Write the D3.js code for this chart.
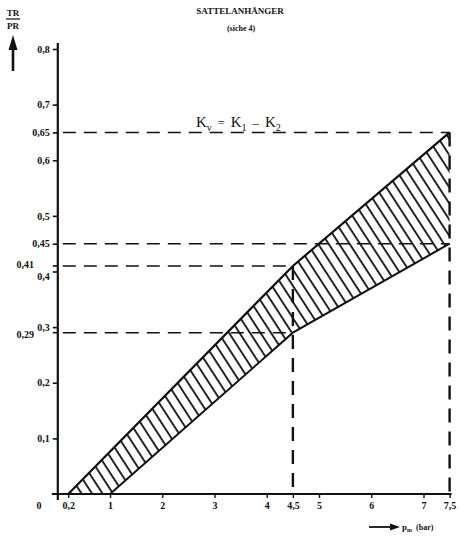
<!DOCTYPE html>
<html><head><meta charset="utf-8">
<script src="https://cdn.jsdelivr.net/npm/d3@7"></script>
<style>
body{margin:0;background:#fff;}
text{font-family:"Liberation Serif","DejaVu Serif",serif;font-weight:bold;fill:#111;}
</style></head>
<body>
<svg id="c" width="472" height="542"></svg>
<script>
// ---- data ----
const upperX = [0.2, 4.5, 7.5];
const upperY = [0, 0.41, 0.65];
const lowerX = [1, 4.5, 7.5];
const lowerY = [0, 0.29, 0.45];
const yTickValues = [0.1, 0.2, 0.3, 0.4, 0.45, 0.5, 0.6, 0.65, 0.7, 0.8];
const yTickLabels = ["0,1","0,2","0,3","0,4","0,45","0,5","0,6","0,65","0,7","0,8"];
const yExtraValues = [0.41, 0.29];
const yExtraLabels = ["0,41", "0,29"];
const xTickValues = [0.2, 1, 2, 3, 4, 4.5, 5, 6, 7, 7.5];
const xTickLabels = ["0,2","1","2","3","4","4,5","5","6","7","7,5"];
// reference guides: [x-end, y-level]
const hGuideX = [7.5, 7.5, 4.5, 4.5];
const hGuideY = [0.65, 0.45, 0.41, 0.29];
const vGuideX = [4.5, 7.5];
const vGuideY = [0.41, 0.65];

const svg = d3.select("#c");
const x = d3.scaleLinear().domain([0, 7.5]).range([57.8, 449.6]);
const y = d3.scaleLinear().domain([0, 0.8]).range([494, 49]);

// hatch pattern
const defs = svg.append("defs");
const pat = defs.append("pattern").attr("id","hatch").attr("patternUnits","userSpaceOnUse")
  .attr("width", 8.8).attr("height", 20).attr("patternTransform","rotate(-33)");
pat.append("line").attr("x1",2).attr("x2",2).attr("y1",-2).attr("y2",22)
  .attr("stroke","#111").attr("stroke-width",1.8);

// band
const upper = upperX.map((v,i)=>[v, upperY[i]]);
const lower = lowerX.map((v,i)=>[v, lowerY[i]]);
const band = upper.concat(lower.slice().reverse());
const line = d3.line().x(d=>x(d[0])).y(d=>y(d[1]));
svg.append("path").attr("d", line(band) + "Z").attr("fill","url(#hatch)").attr("stroke","none");

// guides
const g = svg.append("g").attr("stroke","#111").attr("fill","none");
hGuideY.forEach((v,i)=>{
  g.append("line").attr("x1", x(0)+5).attr("x2", x(hGuideX[i])).attr("y1", y(v)).attr("y2", y(v))
   .attr("stroke-width",1.6).attr("stroke-dasharray","13,8");
});
vGuideX.forEach((v,i)=>{
  g.append("line").attr("x1", x(v)).attr("x2", x(v)).attr("y1", y(vGuideY[i])).attr("y2", y(0))
   .attr("stroke-width",2.4).attr("stroke-dasharray","14,9");
});

// band outlines
svg.append("path").attr("d", line(upper)).attr("fill","none").attr("stroke","#111").attr("stroke-width",2.2);
svg.append("path").attr("d", line(lower)).attr("fill","none").attr("stroke","#111").attr("stroke-width",2);

// y axis
const yAxis = d3.axisLeft(y).tickValues(yTickValues).tickFormat((d,i)=>yTickLabels[i]).tickSize(5).tickPadding(3);
const ya = svg.append("g").attr("transform",`translate(${x(0)},0)`).call(yAxis);
ya.select(".domain").remove();
ya.selectAll(".tick line").attr("stroke","#111").attr("stroke-width",1.6);
ya.selectAll(".tick text").attr("font-size",10).attr("font-family",null).style("font-family","'Liberation Serif',serif").style("font-weight","bold")
  .attr("dy", (d)=> d===0.4 ? "0.75em" : "0.32em");
svg.append("line").attr("x1",x(0)).attr("x2",x(0)).attr("y1",y(0.8)-6).attr("y2",y(0)+6)
  .attr("stroke","#111").attr("stroke-width",2.2);
yExtraValues.forEach((v,i)=>{
  svg.append("line").attr("x1",x(0)-5).attr("x2",x(0)).attr("y1",y(v)).attr("y2",y(v)).attr("stroke","#111").attr("stroke-width",1.6);
  svg.append("text").attr("x",34).attr("y",y(v)).attr("dy", i===0 ? "0.25em" : "0.55em").attr("text-anchor","end")
    .attr("font-size",10).text(yExtraLabels[i]);
});

// x axis
const xa = svg.append("g").attr("transform",`translate(0,${y(0)})`)
  .call(d3.axisBottom(x).tickValues(xTickValues).tickFormat((d,i)=>xTickLabels[i]).tickSize(4).tickPadding(4));
xa.select(".domain").remove();
xa.selectAll(".tick line").attr("stroke","#111").attr("stroke-width",1.4);
xa.selectAll(".tick text").attr("font-size",10).attr("font-family",null).style("font-family","'Liberation Serif',serif").style("font-weight","bold");
svg.append("line").attr("x1",x(0)-6).attr("x2",x(7.5)+2).attr("y1",y(0)).attr("y2",y(0))
  .attr("stroke","#111").attr("stroke-width",1.8);
svg.append("text").attr("x",39).attr("y",y(0)+15).attr("text-anchor","middle").attr("font-size",10).text("0");

// titles
svg.append("text").attr("x",240).attr("y",14).attr("text-anchor","middle").attr("font-size",9).text("SATTELANHÄNGER");
svg.append("text").attr("x",241).attr("y",31).attr("text-anchor","middle").attr("font-size",8).text("(siche 4)");

// y axis title with arrow
svg.append("text").attr("x",13).attr("y",16).attr("text-anchor","middle").attr("font-size",9).text("TR");
svg.append("line").attr("x1",6).attr("x2",20).attr("y1",19).attr("y2",19).attr("stroke","#111").attr("stroke-width",1.2);
svg.append("text").attr("x",13).attr("y",29).attr("text-anchor","middle").attr("font-size",9).text("PR");
svg.append("line").attr("x1",13).attr("x2",13).attr("y1",48).attr("y2",71).attr("stroke","#111").attr("stroke-width",2.6);
svg.append("path").attr("d","M13,35 L8.5,50 L17.5,50 Z").attr("fill","#111");

// x axis title with arrow
svg.append("line").attr("x1",369).attr("x2",392).attr("y1",527).attr("y2",527).attr("stroke","#111").attr("stroke-width",1.8);
svg.append("path").attr("d","M400,527 L390,523.5 L390,530.5 Z").attr("fill","#111");
const xl = svg.append("text").attr("x",402).attr("y",530).attr("font-size",9);
xl.append("tspan").text("p");
xl.append("tspan").attr("font-size",6).attr("dy",2).text("m");
xl.append("tspan").attr("dy",-2).attr("dx",4).attr("font-size",8).text("(bar)");

// formula
const f = svg.append("text").attr("x",196).attr("y",127).attr("font-size",15)
  .style("font-weight","normal");
f.append("tspan").text("K");
f.append("tspan").attr("font-size",10).attr("dy",4).text("v");
f.append("tspan").attr("dy",-4).attr("dx",6).attr("font-size",12).text("=");
f.append("tspan").attr("dx",6).text("K");
f.append("tspan").attr("font-size",10).attr("dy",4).text("1");
f.append("tspan").attr("dy",-4).attr("dx",6).attr("font-size",13).text("–");
f.append("tspan").attr("dx",6).text("K");
f.append("tspan").attr("font-size",10).attr("dy",4).text("2");
</script>
</body></html>
